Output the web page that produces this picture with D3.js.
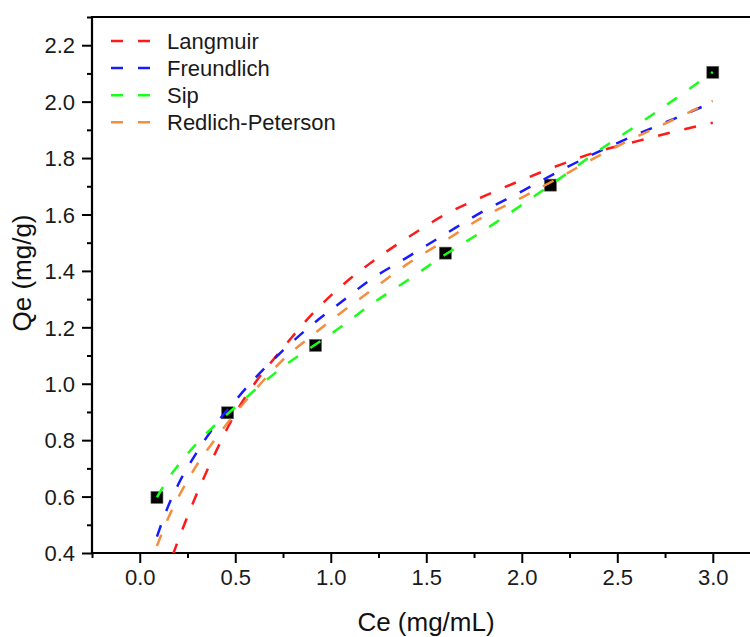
<!DOCTYPE html>
<html>
<head>
<meta charset="utf-8">
<script src="https://cdn.jsdelivr.net/npm/d3@7"></script>
<style>
  html, body { margin: 0; padding: 0; background: #fff; }
  svg { display: block; font-family: "Liberation Sans", Arial, sans-serif; }
  .tick-label { font-size: 22px; fill: #1a1a1a; }
  .axis-title { font-size: 26px; fill: #111; }
  .legend-label { font-size: 22px; fill: #1a1a1a; }
</style>
</head>
<body>
<div id="chart"></div>
<script>
// experimental points
const ceData = [0.09, 0.46, 0.92, 1.60, 2.15, 3.00];
const qeData = [0.597, 0.897, 1.136, 1.463, 1.704, 2.104];

// fitted curves on a common Ce grid
const ceGrid = [0.09, 0.15, 0.2, 0.3, 0.4, 0.5, 0.6, 0.75, 0.9, 1.05, 1.2, 1.4, 1.6, 1.8, 2.0, 2.2, 2.4, 2.6, 2.8, 3.0];
const langmuir = [0.21, 0.349, 0.442, 0.612, 0.761, 0.895, 0.999, 1.127, 1.245, 1.343, 1.424, 1.517, 1.600, 1.664, 1.722, 1.776, 1.823, 1.859, 1.894, 1.925];
const freundlich = [0.458, 0.568, 0.641, 0.758, 0.858, 0.940, 1.017, 1.118, 1.208, 1.287, 1.365, 1.448, 1.531, 1.612, 1.682, 1.755, 1.822, 1.883, 1.940, 1.998];
const sip = [0.597, 0.665, 0.710, 0.790, 0.857, 0.917, 0.976, 1.060, 1.130, 1.200, 1.276, 1.366, 1.458, 1.543, 1.634, 1.728, 1.825, 1.915, 2.008, 2.105];
const redlichPeterson = [0.425, 0.525, 0.595, 0.713, 0.808, 0.895, 0.975, 1.085, 1.170, 1.250, 1.325, 1.424, 1.508, 1.592, 1.660, 1.732, 1.807, 1.875, 1.938, 2.003];

const seriesNames = ["Langmuir", "Freundlich", "Sip", "Redlich-Peterson"];
const seriesValues = [langmuir, freundlich, sip, redlichPeterson];
const seriesColors = ["#ff1a1a", "#1a1aff", "#1aff1a", "#f58d3f"];

const xTicks = [0, 0.5, 1.0, 1.5, 2.0, 2.5, 3.0];
const yTicks = [0.4, 0.6, 0.8, 1.0, 1.2, 1.4, 1.6, 1.8, 2.0, 2.2];

const width = 750, height = 637;
const margin = { left: 92, top: 17, bottom: 553, right: 751 };

const x = d3.scaleLinear().domain([-0.25, 3.2]).range([margin.left, margin.right]);
const y = d3.scaleLinear().domain([0.4, 2.3]).range([margin.bottom, margin.top]);

const svg = d3.select("#chart").append("svg").attr("width", width).attr("height", height);

svg.append("defs").append("clipPath").attr("id", "plot-clip")
  .append("rect")
  .attr("x", margin.left).attr("y", margin.top)
  .attr("width", margin.right - margin.left).attr("height", margin.bottom - margin.top);

// axes with Origin-style outward ticks
const xMinor = d3.range(-0.25, 3.3, 0.5);
const yMinor = d3.range(0.5, 2.35, 0.2);

const xAxis = svg.append("g").attr("transform", `translate(0,${margin.bottom})`);
xAxis.call(d3.axisBottom(x).tickValues(xTicks).tickSize(10).tickFormat(d3.format(".1f")));
xAxis.append("g").call(d3.axisBottom(x).tickValues(xMinor).tickSize(5).tickFormat(""))
  .select(".domain").remove();
xAxis.selectAll(".tick text").attr("class", "tick-label").attr("y", 16).attr("dy", "0.71em").attr("fill", null);

const yAxis = svg.append("g").attr("transform", `translate(${margin.left},0)`);
yAxis.call(d3.axisLeft(y).tickValues(yTicks).tickSize(10).tickFormat(d3.format(".1f")));
yAxis.append("g").call(d3.axisLeft(y).tickValues(yMinor).tickSize(5).tickFormat(""))
  .select(".domain").remove();
yAxis.selectAll(".tick text").attr("class", "tick-label").attr("x", -17).attr("dy", "0.35em").attr("fill", null);

svg.selectAll(".domain").attr("stroke", "#000").attr("stroke-width", 2.2);
xAxis.select(".domain").attr("d", `M${margin.left - 1},0H${width}`);
yAxis.select(".domain").attr("d", `M0,${margin.top - 1}V${margin.bottom + 1}`);
svg.selectAll(".tick line").attr("stroke", "#000").attr("stroke-width", 2);
svg.selectAll(".tick text").attr("font-family", null).attr("font-size", null);

// top frame
svg.append("line")
  .attr("x1", margin.left - 1).attr("x2", width)
  .attr("y1", margin.top).attr("y2", margin.top)
  .attr("stroke", "#000").attr("stroke-width", 2.2);

// axis titles
svg.append("text").attr("class", "axis-title")
  .attr("x", 426).attr("y", 631).attr("text-anchor", "middle")
  .text("Ce (mg/mL)");
svg.append("text").attr("class", "axis-title")
  .attr("transform", "translate(31,273) rotate(-90)").attr("text-anchor", "middle")
  .text("Qe (mg/g)");

const plot = svg.append("g").attr("clip-path", "url(#plot-clip)");

// data squares sit under the fitted lines
plot.selectAll("rect.pt").data(ceData.map((c, i) => [c, qeData[i]])).join("rect")
  .attr("class", "pt")
  .attr("x", d => x(d[0]) - 6).attr("y", d => y(d[1]) - 6)
  .attr("width", 12).attr("height", 12)
  .attr("fill", "#000").attr("stroke", "#666").attr("stroke-width", 0.6);

const line = d3.line().x(d => x(d[0])).y(d => y(d[1])).curve(d3.curveMonotoneX);

plot.selectAll("path.fit").data(seriesValues).join("path")
  .attr("class", "fit")
  .attr("d", vals => line(ceGrid.map((c, i) => [c, vals[i]])))
  .attr("fill", "none")
  .attr("stroke", (d, i) => seriesColors[i])
  .attr("stroke-width", 2.5)
  .attr("stroke-dasharray", "12,15");

// legend
const legend = svg.append("g").attr("transform", "translate(111,41)");
const row = legend.selectAll("g").data(seriesNames).join("g")
  .attr("transform", (d, i) => `translate(0,${i * 27.1})`);
row.append("line")
  .attr("x1", 0).attr("x2", 39).attr("y1", 0).attr("y2", 0)
  .attr("stroke", (d, i) => seriesColors[i])
  .attr("stroke-width", 2.5)
  .attr("stroke-dasharray", "12,15");
row.append("text").attr("class", "legend-label")
  .attr("x", 56).attr("y", 8)
  .text(d => d);
</script>
</body>
</html>
